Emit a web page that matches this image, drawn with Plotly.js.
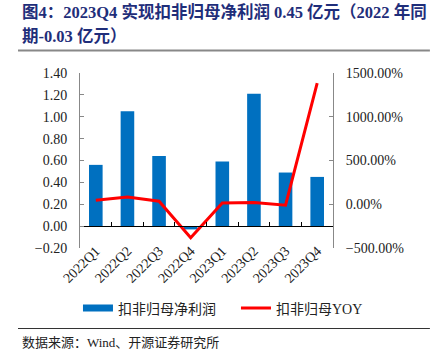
<!DOCTYPE html>
<html>
<head>
<meta charset="utf-8">
<script src="https://cdn.plot.ly/plotly-3.0.1.min.js"></script>
<style>
html,body{margin:0;padding:0;background:#fff;}
#chart{width:448px;height:357px;}
</style>
</head>
<body>
<div id="chart"></div>
<script>
const categories = ['2022Q1','2022Q2','2022Q3','2022Q4','2023Q1','2023Q2','2023Q3','2023Q4'];
const netProfit = [0.56, 1.05, 0.64, -0.03, 0.59, 1.21, 0.49, 0.45];
const yoy = [45, 84, 34, -382, 15, 19, -11, 1384];
const barName = '扣非归母净利润';
const lineName = '扣非归母YOY';
const titleLine1 = '图4：2023Q4 实现扣非归母净利润 0.45 亿元（2022 年同';
const titleLine2 = '期-0.03 亿元）';
const sourceText = '数据来源：Wind、开源证券研究所';

const serif = '"Liberation Serif", "Times New Roman", "Noto Sans CJK SC", serif';
const cjk = '"Liberation Serif", "Noto Sans CJK SC", serif';

const traces = [
  {
    type: 'scatter', x: [null], y: [null], mode: 'lines', name: barName,
    line: {color: '#0070C0', width: 7}, showlegend: true, hoverinfo: 'skip'
  },
  {
    type: 'bar', x: categories, y: netProfit, name: barName,
    marker: {color: '#0070C0'}, showlegend: false, xaxis: 'x', yaxis: 'y'
  },
  {
    type: 'scatter', mode: 'lines', x: categories, y: yoy, name: lineName,
    line: {color: '#FF0000', width: 3}, xaxis: 'x2', yaxis: 'y2'
  }
];

const titleFont = {family: cjk, size: 16.5, color: '#1F2E7A', weight: 'bold'};

const layout = {
  width: 448, height: 357,
  paper_bgcolor: '#fff', plot_bgcolor: '#fff',
  margin: {l: 80, r: 115, t: 73, b: 109, pad: 0},
  bargap: 0.57,
  showlegend: true,
  font: {family: serif, size: 14, color: '#222'},
  xaxis: {
    type: 'category', categoryarray: categories, range: [-0.5, 7.5],
    showline: false, ticks: '', tickangle: -45, ticklabelstandoff: -9,
    tickfont: {family: serif, size: 14, color: '#222'},
    showgrid: false, zeroline: false, fixedrange: true
  },
  xaxis2: {
    type: 'category', categoryarray: categories, range: [-0.5, 7.5],
    overlaying: 'x', anchor: 'free', position: 0.125,
    showline: true, linecolor: '#000', linewidth: 1,
    ticks: 'inside', tickson: 'boundaries', ticklen: 4, tickcolor: '#000',
    showticklabels: false, showgrid: false, zeroline: false
  },
  yaxis: {
    range: [-0.2, 1.4], dtick: 0.2, tick0: 0, tickformat: '.2f',
    showline: true, linecolor: '#888', linewidth: 1,
    ticks: 'inside', ticklen: 4, tickcolor: '#888', ticklabelstandoff: 9,
    showgrid: false, zeroline: false,
    tickfont: {family: serif, size: 14, color: '#222'}
  },
  yaxis2: {
    range: [-500, 1500], dtick: 500, tick0: 0, tickformat: '.2f', ticksuffix: '%',
    overlaying: 'y', side: 'right', anchor: 'free', position: 1,
    showline: true, linecolor: '#888', linewidth: 1,
    ticks: 'inside', ticklen: 4, tickcolor: '#888', ticklabelstandoff: 9,
    showgrid: false, zeroline: false,
    tickfont: {family: serif, size: 14, color: '#222'}
  },
  legend: {
    orientation: 'h', xref: 'paper', x: -0.008, xanchor: 'left',
    yref: 'paper', y: -0.254, yanchor: 'top',
    font: {family: cjk, size: 14, color: '#222'},
    itemwidth: 30, entrywidthmode: 'pixels', entrywidth: 113
  },
  shapes: [
    {type: 'line', xref: 'paper', yref: 'paper', x0: -0.245, x1: 1.383, y0: 1.128, y1: 1.128,
     line: {color: '#888', width: 2}},
    {type: 'line', xref: 'paper', yref: 'paper', x0: -0.245, x1: 1.383, y0: -0.46, y1: -0.46,
     line: {color: '#333', width: 1}}
  ],
  annotations: [
    {text: titleLine1, xref: 'paper', yref: 'paper', x: -0.237, y: 1.346,
     xanchor: 'left', yanchor: 'middle', showarrow: false, font: titleFont},
    {text: titleLine2, xref: 'paper', yref: 'paper', x: -0.237, y: 1.208,
     xanchor: 'left', yanchor: 'middle', showarrow: false, font: titleFont},
    {text: sourceText, xref: 'paper', yref: 'paper',
     x: -0.237, y: -0.54, xanchor: 'left', yanchor: 'middle', showarrow: false,
     font: {family: cjk, size: 13, color: '#222'}}
  ]
};

Plotly.newPlot('chart', traces, layout, {displayModeBar: false, staticPlot: true});
</script>
</body>
</html>
